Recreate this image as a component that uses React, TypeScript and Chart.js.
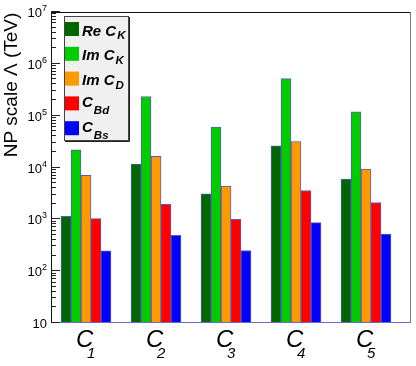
import React, { useEffect, useRef } from "react";
import { Chart, registerables } from "chart.js";

Chart.register(...registerables);

// ---- data ----
const categoryPositions = [1, 2, 3, 4, 5];
const categorySubscripts = ["1", "2", "3", "4", "5"];
const categoryMain = "C";

const seriesMain = ["Re C", "Im C", "Im C", "C", "C"];
const seriesSub = ["K", "K", "D", "Bd", "Bs"];
const seriesColors = ["#006600", "#00cc00", "#ff9900", "#ff0000", "#0000ff"];

const reCK = [1140, 11700, 3100, 26100, 5980];
const imCK = [22000, 234000, 60000, 520000, 118000];
const imCD = [7100, 16500, 4370, 31700, 9350];
const cBd = [1030, 1950, 1000, 3600, 2110];
const cBs = [247, 489, 250, 863, 519];

const yTickExponents = [1, 2, 3, 4, 5, 6, 7];
const yTitle = "NP scale \u039B (TeV)";

const FONT = "'Liberation Sans', Arial, Helvetica, sans-serif";

const overlay = {
  id: "overlay",
  afterDatasetsDraw(chart: any) {
    const ctx: CanvasRenderingContext2D = chart.ctx;
    const { left, right, top, bottom } = chart.chartArea;
    const ys = chart.scales.y;
    const xs = chart.scales.x;
    ctx.save();

    // frame
    ctx.lineWidth = 1;
    ctx.strokeStyle = "#111";
    ctx.beginPath();
    ctx.moveTo(left, top + 0.5);
    ctx.lineTo(right, top + 0.5);
    ctx.stroke();
    ctx.strokeStyle = "#777";
    ctx.beginPath();
    ctx.moveTo(right - 0.5, top);
    ctx.lineTo(right - 0.5, bottom);
    ctx.stroke();
    ctx.strokeStyle = "#6a6ac4";
    ctx.beginPath();
    ctx.moveTo(left, bottom - 0.5);
    ctx.lineTo(right, bottom - 0.5);
    ctx.stroke();
    ctx.strokeStyle = "#111";
    ctx.beginPath();
    ctx.moveTo(left + 0.5, top);
    ctx.lineTo(left + 0.5, bottom);
    ctx.stroke();

    // y ticks (log, major + minor)
    ctx.strokeStyle = "#222";
    for (let e = 1; e <= 7; e++) {
      for (let m = 1; m <= 9; m++) {
        if (e === 7 && m > 1) break;
        const v = m * Math.pow(10, e);
        const py = Math.round(ys.getPixelForValue(v)) - 0.5;
        const len = m === 1 ? 9 : 5;
        ctx.beginPath();
        ctx.moveTo(left, py);
        ctx.lineTo(left + len, py);
        ctx.stroke();
      }
    }

    // y tick labels
    ctx.fillStyle = "#000";
    ctx.textBaseline = "alphabetic";
    for (const e of yTickExponents) {
      const py = ys.getPixelForValue(Math.pow(10, e));
      const xr = left - 4;
      ctx.font = `13px ${FONT}`;
      if (e === 1) {
        ctx.textAlign = "right";
        ctx.fillText("10", xr, py + 5);
      } else {
        ctx.font = `9px ${FONT}`;
        const sw = ctx.measureText(String(e)).width;
        ctx.textAlign = "right";
        ctx.fillText(String(e), xr, py - 1);
        ctx.font = `13px ${FONT}`;
        ctx.fillText("10", xr - sw, py + 5);
      }
    }

    // x labels
    categoryPositions.forEach((p, i) => {
      const cx = xs.getPixelForValue(p);
      const x0 = cx - 10;
      ctx.textAlign = "left";
      ctx.font = `italic 24px ${FONT}`;
      ctx.fillText(categoryMain, x0, 347);
      ctx.font = `italic 15px ${FONT}`;
      ctx.fillText(categorySubscripts[i], x0 + 11, 358);
    });

    // y title
    ctx.save();
    ctx.translate(17, 85);
    ctx.rotate(-Math.PI / 2);
    ctx.textAlign = "center";
    ctx.textBaseline = "alphabetic";
    ctx.font = `19px ${FONT}`;
    ctx.fillText(yTitle, 0, 0);
    ctx.restore();

    // legend
    const lx = 64, ly = 16, lw = 65, lh = 125;
    ctx.fillStyle = "#f0f0f0";
    ctx.fillRect(lx, ly, lw, lh);
    ctx.strokeStyle = "#444";
    ctx.lineWidth = 1;
    ctx.strokeRect(lx + 0.5, ly + 0.5, lw - 1, lh - 1);
    ctx.strokeStyle = "#222";
    ctx.beginPath();
    ctx.moveTo(lx + lw + 0.5, ly + 1);
    ctx.lineTo(lx + lw + 0.5, ly + lh + 0.5);
    ctx.lineTo(lx + 1, ly + lh + 0.5);
    ctx.stroke();
    seriesMain.forEach((txt, i) => {
      const cy = 29 + i * 24.8;
      const tall = seriesSub[i].length > 1;
      ctx.fillStyle = seriesColors[i];
      ctx.fillRect(lx + 1, cy - 7, 14, 14);
      ctx.fillStyle = "#000";
      ctx.textAlign = "left";
      ctx.font = `italic bold 15px ${FONT}`;
      const mainBase = cy + (tall ? 3.5 : 6.5);
      ctx.fillText(txt, lx + 18, mainBase);
      const w = ctx.measureText(txt).width;
      ctx.font = `italic bold 11.5px ${FONT}`;
      ctx.fillText(seriesSub[i], lx + 18 + w + 1, cy + (tall ? 11 : 10));
    });

    ctx.restore();
  },
};

export default function App() {
  const ref = useRef<HTMLCanvasElement>(null);
  useEffect(() => {
    document.body.style.margin = "0";
    const series = [reCK, imCK, imCD, cBd, cBs];
    const chart = new Chart(ref.current as HTMLCanvasElement, {
      type: "bar",
      data: {
        datasets: series.map((vals, si) => ({
          label: seriesMain[si] + seriesSub[si],
          data: categoryPositions.map((p, i) => ({ x: p, y: vals[i] })),
          backgroundColor: seriesColors[si],
          borderColor: "rgba(50,50,170,0.8)",
          borderWidth: 1,
          borderSkipped: false,
          barThickness: 10,
        })),
      },
      options: {
        responsive: false,
        animation: false,
        layout: { padding: { left: 51, right: 5, top: 12, bottom: 43 } },
        plugins: { legend: { display: false }, tooltip: { enabled: false } },
        scales: {
          x: {
            type: "linear",
            min: 0.5,
            max: 5.643,
            offset: false,
            grid: { offset: false },
            display: false,
          },
          y: { type: "logarithmic", min: 10, max: 1e7, display: false },
        },
      },
      plugins: [overlay],
    } as any);
    return () => chart.destroy();
  }, []);
  return (
    <div style={{ width: 416, height: 366 }}>
      <canvas ref={ref} width={416} height={366} style={{ display: "block" }} />
    </div>
  );
}
